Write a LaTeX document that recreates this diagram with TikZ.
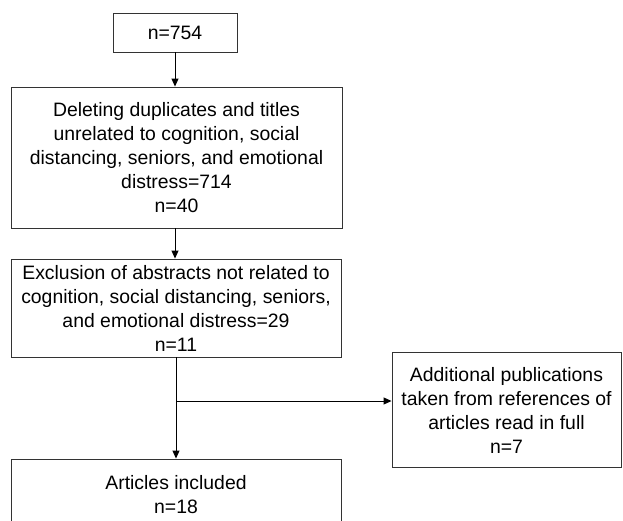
\documentclass[tikz,border=0pt]{standalone}
\usepackage{fontspec}
\setmainfont{Liberation Sans}
\usetikzlibrary{arrows.meta}
\begin{document}
\begin{tikzpicture}[x=1pt,y=-1pt,
  box/.style={draw=black!80, line width=0.9pt, align=center, inner sep=0pt,
    font=\fontsize{19.4}{24}\selectfont},
  conn/.style={line width=0.9pt, -{Triangle[length=8pt,width=7pt]}}]
\useasboundingbox (0,0) rectangle (623,520);
\clip (0,0) rectangle (623,520);
\node[box, minimum width=124pt, minimum height=39pt] (b1) at (175,32.5) {n=754};
\node[box, minimum width=331pt, minimum height=141pt] (b2) at (176.5,157.5)
  {Deleting duplicates and titles\\unrelated to cognition, social\\distancing, seniors, and emotional\\distress=714\\n=40};
\node[box, minimum width=330pt, minimum height=98pt] (b3) at (176,308)
  {Exclusion of abstracts not related to\\cognition, social distancing, seniors,\\and emotional distress=29\\n=11};
\node[box, minimum width=229pt, minimum height=115pt] (b4) at (506.5,410)
  {Additional publications\\taken from references of\\articles read in full\\n=7};
\node[box, minimum width=330pt, minimum height=71pt] (b5) at (176,494.5)
  {Articles included\\n=18};
\coordinate (j) at (176,401);
\draw[conn] (b1.south) -- (b2.north -| b1.south);
\draw[conn] (b2.south -| b1.south) -- (b3.north -| b1.south);
\draw[conn] (b3.south) -- (b5.north);
\draw[conn] (j) -- (b4.west |- j);
\end{tikzpicture}
\end{document}
